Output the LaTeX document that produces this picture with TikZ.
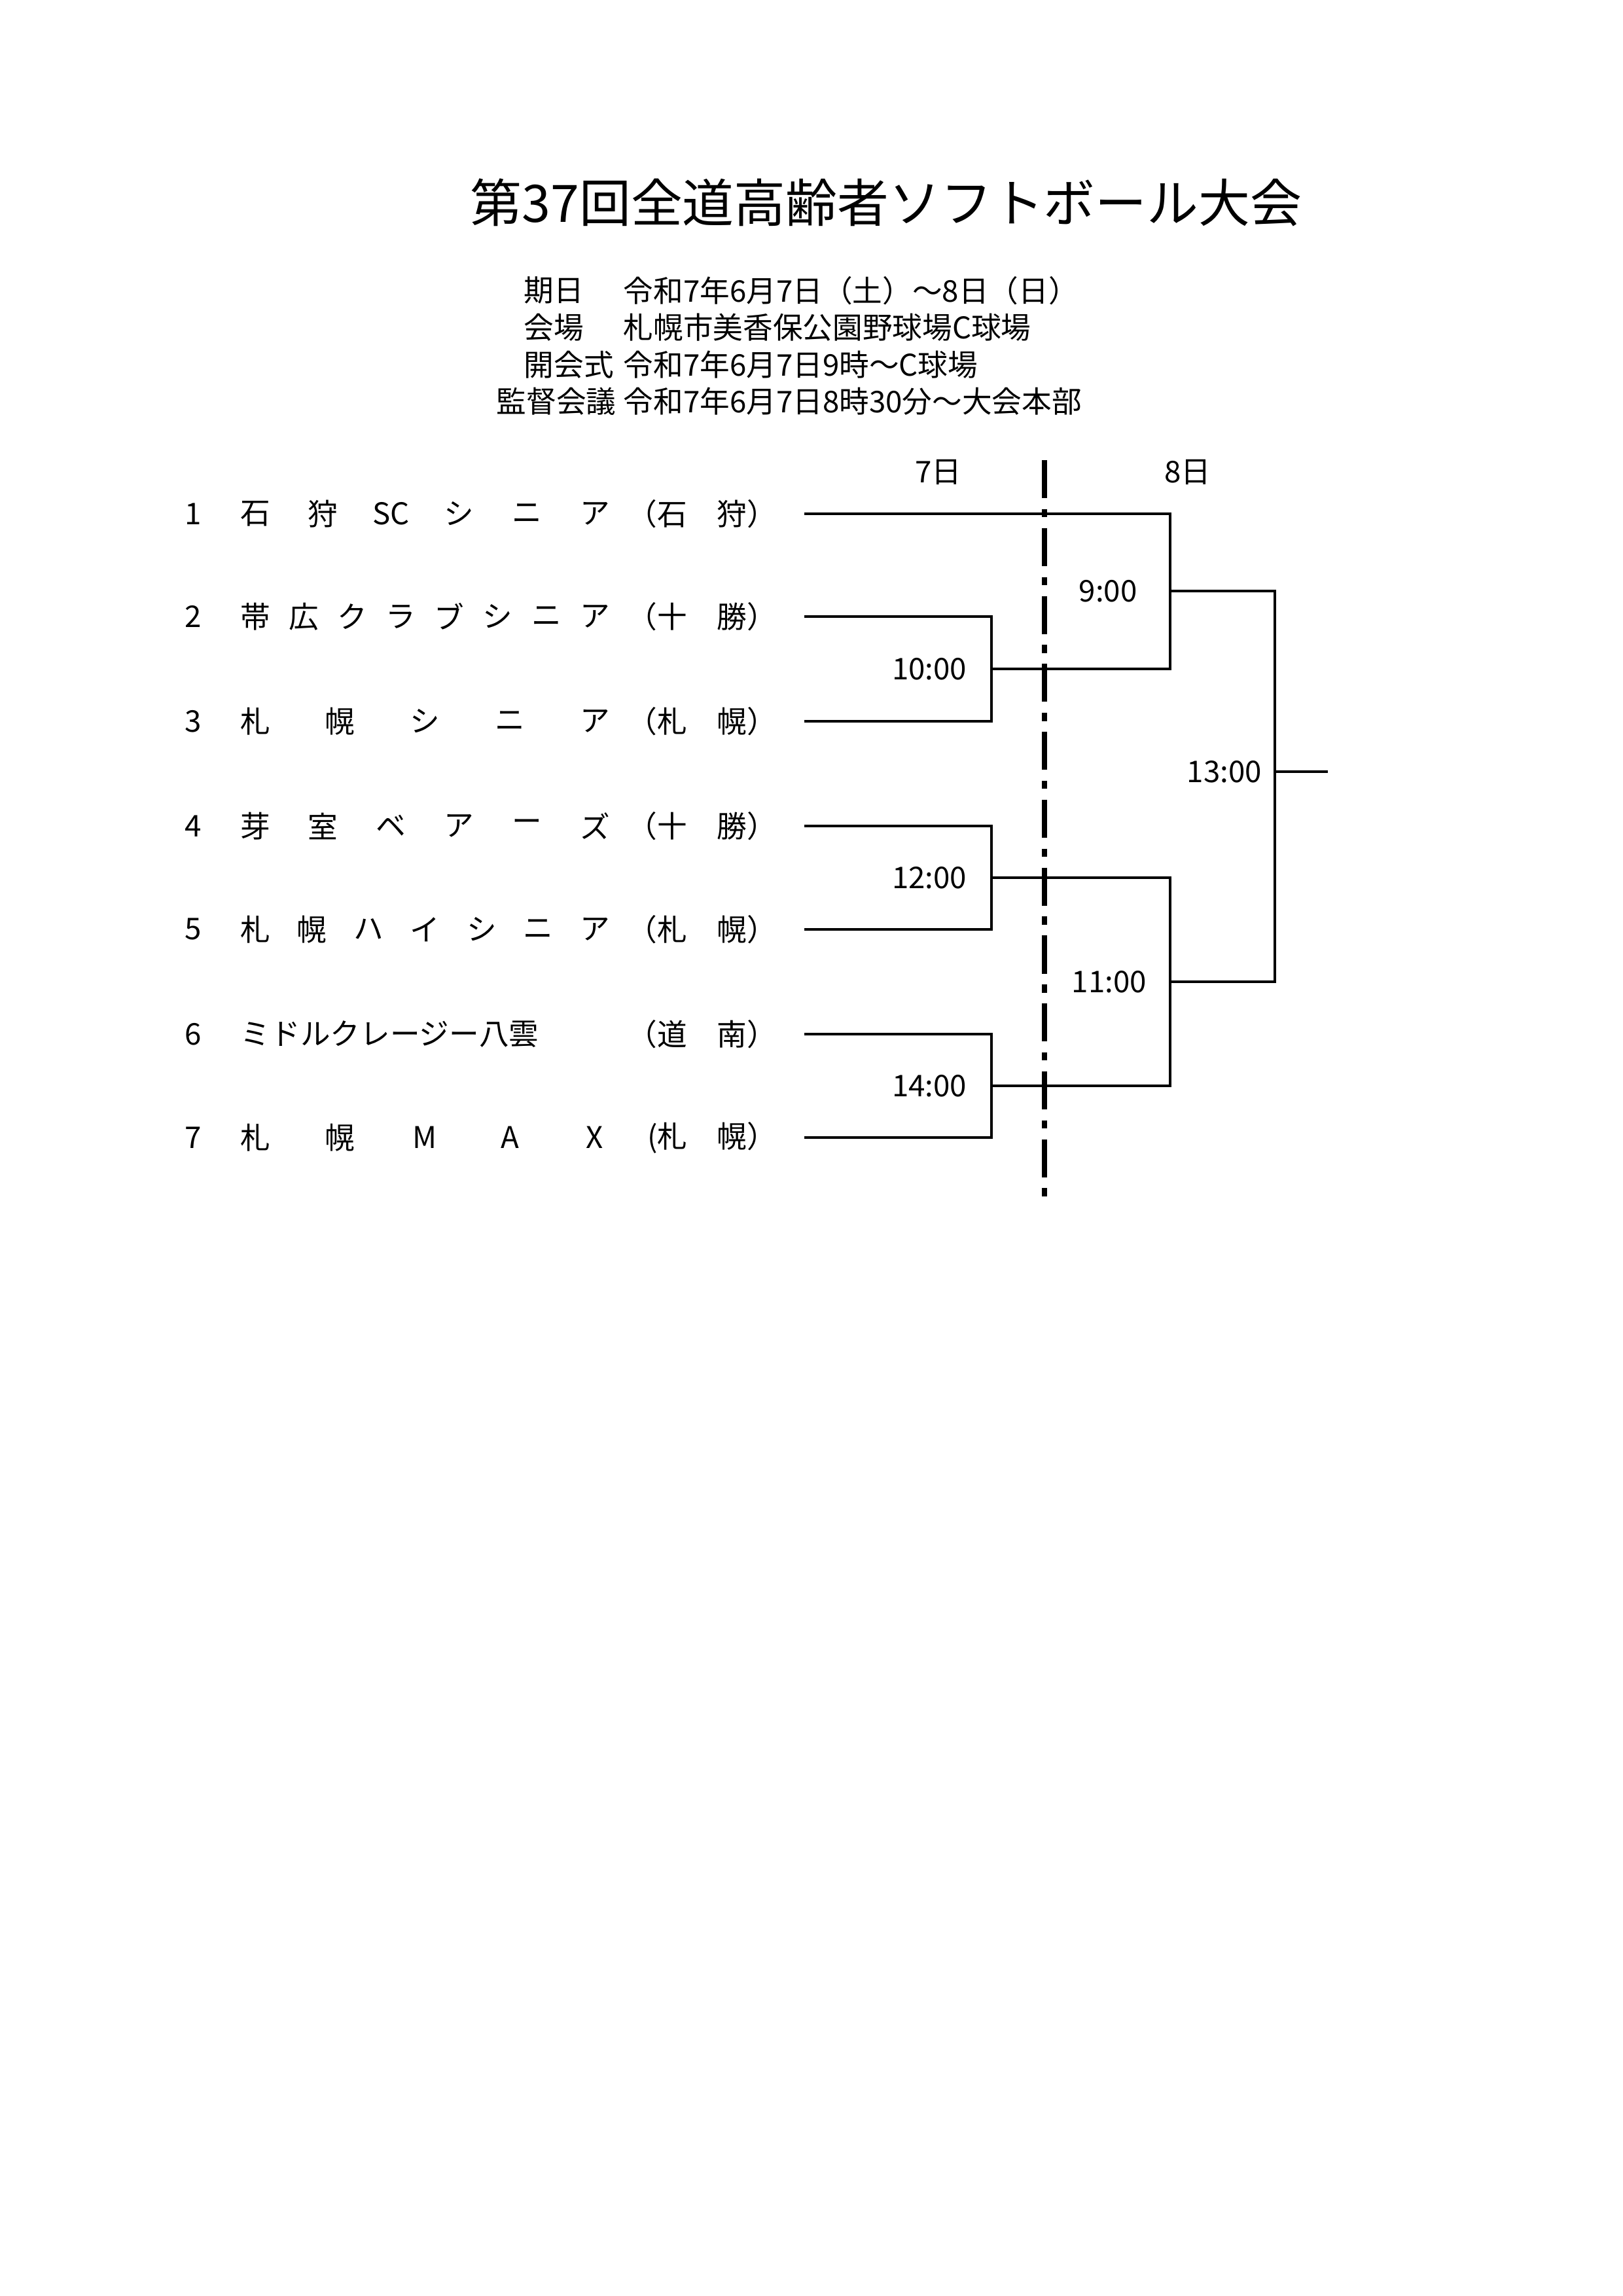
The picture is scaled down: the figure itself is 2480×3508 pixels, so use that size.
\documentclass[tikz,border=0pt]{standalone}
\usepackage{fontspec}
\setmainfont{Noto Sans CJK JP}
\begin{document}
\begin{tikzpicture}[x=0.0846774mm,y=-0.0846774mm,
  txt/.style={inner sep=0pt,font=\fontsize{11pt}{13pt}\selectfont},
  br/.style={line width=1.1pt}]
\useasboundingbox[fill=white] (0,0) rectangle (2480,3508);
\node[inner sep=0pt,font=\fontsize{19pt}{22pt}\selectfont] (title) at (1354,309) {第37回全道高齢者ソフトボール大会};
\node[txt,anchor=west] (l1) at (800,444) {期日};
\node[txt,anchor=west] (l2) at (800,500) {会場};
\node[txt,anchor=west] (l3) at (800,557) {開会式};
\node[txt,anchor=west] (l4) at (758,613) {監督会議};
\node[txt,anchor=west] (v1) at (952,444) {令和7年6月7日（土）～8日（日）};
\node[txt,anchor=west] (v2) at (952,500) {札幌市美香保公園野球場C球場};
\node[txt,anchor=west] (v3) at (952,557) {令和7年6月7日9時～C球場};
\node[txt,anchor=west] (v4) at (952,613) {令和7年6月7日8時30分～大会本部};
\node[txt] (d7) at (1434,721) {7日};
\node[txt] (d8) at (1815,721) {8日};
% teams
\def\rowA{785}\def\rowB{942}\def\rowC{1102}\def\rowD{1262}\def\rowE{1420}\def\rowF{1580}\def\rowG{1738}
\newcommand{\teamrow}[4]{% y, number, n items, list
  \node[txt] at (295,#1) {#2};
  \foreach \c [count=\i from 0] in {#4} {
    \node[txt] at ({390+\i*519/(#3-1)},#1) {\c};
  }
}
\teamrow{785}{1}{6}{石,狩,SC,シ,ニ,ア}
\teamrow{942}{2}{8}{帯,広,ク,ラ,ブ,シ,ニ,ア}
\teamrow{1102}{3}{5}{札,幌,シ,ニ,ア}
\teamrow{1262}{4}{6}{芽,室,ベ,ア,ー,ズ}
\teamrow{1420}{5}{7}{札,幌,ハ,イ,シ,ニ,ア}
\node[txt] at (295,1580) {6};
\node[txt,anchor=west] at (367,1580) {ミドルクレージー八雲};
\teamrow{1738}{7}{5}{札,幌,M,A,X}
\node[txt,anchor=east] at (1188,785) {（石　狩）};
\node[txt,anchor=east] at (1188,942) {（十　勝）};
\node[txt,anchor=east] at (1188,1102) {（札　幌）};
\node[txt,anchor=east] at (1188,1262) {（十　勝）};
\node[txt,anchor=east] at (1188,1420) {（札　幌）};
\node[txt,anchor=east] at (1188,1580) {（道　南）};
\node[txt,anchor=east] at (1188,1738) {(札　幌）};
% bracket coordinates
\coordinate (t1) at (1229,785);
\coordinate (t2) at (1229,942);
\coordinate (t3) at (1229,1102);
\coordinate (t4) at (1229,1262);
\coordinate (t5) at (1229,1420);
\coordinate (t6) at (1229,1580);
\coordinate (t7) at (1229,1738);
\coordinate (fin) at (2029,1179);
\draw[br] (t1) -| (1788,1022) -- (1515,1022);
\draw[br] (t2) -| (1515,1102) -- (t3);
\draw[br] (1788,903) -| (1948,1500) -- (1788,1500);
\draw[br] (1948,1179) -- (fin);
\draw[br] (t4) -| (1515,1420) -- (t5);
\draw[br] (t6) -| (1515,1738) -- (t7);
\draw[br] (1515,1341) -| (1788,1659) -- (1515,1659);
\draw[line width=2pt,dash pattern=on 14pt off 4pt on 3pt off 4pt] (1596,703) -- (1596,1844);
\node[txt,anchor=east] (m10) at (1478,1022) {10:00};
\node[txt,anchor=east] (m12) at (1478,1341) {12:00};
\node[txt,anchor=east] (m14) at (1478,1659) {14:00};
\node[txt] (m9) at (1693,903) {9:00};
\node[txt] (m11) at (1695,1500) {11:00};
\node[txt] (m13) at (1871,1179) {13:00};
\end{tikzpicture}
\end{document}
